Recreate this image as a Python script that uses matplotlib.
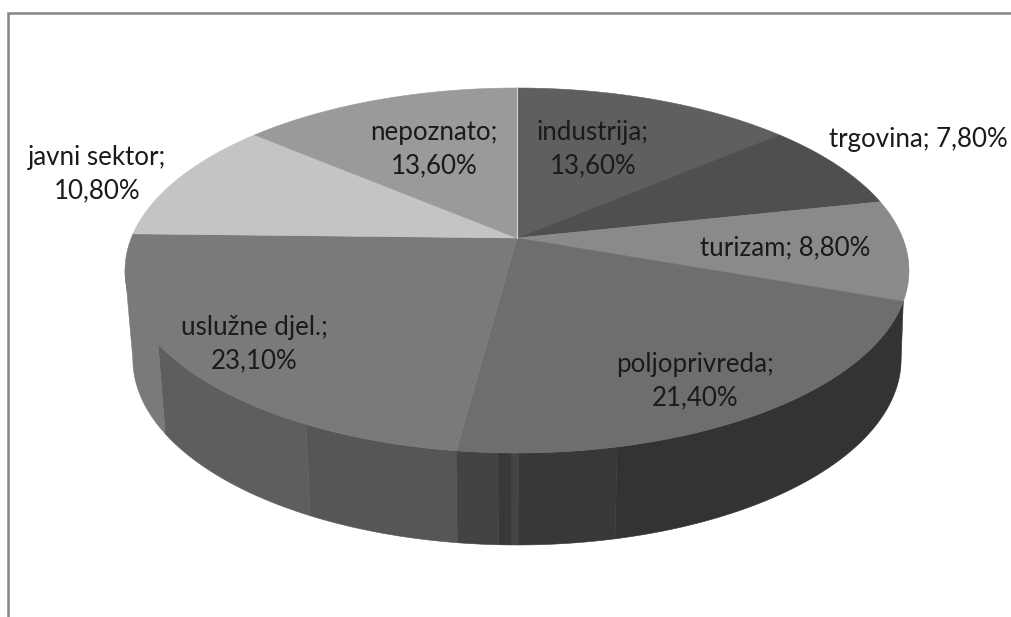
import numpy as np
import matplotlib
matplotlib.use("Agg")
import matplotlib.pyplot as plt

# Data
categories = ["industrija", "trgovina", "turizam", "poljoprivreda",
              "uslužne djel.", "javni sektor", "nepoznato"]
values = [13.6, 7.8, 8.8, 21.4, 23.1, 10.8, 13.6]

# Styles
top_colors = ["#5f5f5f", "#4f4f4f", "#8a8a8a", "#6e6e6e", "#7a7a7a", "#c4c4c4", "#9a9a9a"]
label_xy = [(593, 149), (918, 139), (785, 248), (695, 381), (254, 344), (97, 174), (434, 149)]
side_edges_px = [158, 306, 456, 498, 511, 518, 617]
side_colors = ["#7a7a7a", "#5e5e5e", "#565656", "#434343", "#383838", "#444444", "#383838", "#333333"]

CX, K = 517.0, 0.178
TOP = dict(cy=238.0, a=385.7, b=176.7)
BOT = dict(cy=326.0, a=378.0, b=180.0)


def project(theta, cy, a, b):
    """Perspective projection of the unit circle; theta clockwise from 12 o'clock."""
    x, y = np.sin(theta), np.cos(theta)
    w = 1 + K * y
    return CX + a * x / w, cy - b * y / w


def arc(t0, t1, n=120):
    return np.linspace(t0, t1, n)


fig = plt.figure(figsize=(10.11, 6.17), dpi=100, facecolor="white")
ax = fig.add_axes([0, 0, 1, 1])
ax.set_xlim(0, 1011)
ax.set_ylim(617, 0)
ax.axis("off")

# chart frame
ax.plot([8, 8, 1011], [617, 13, 13], color="#868686", lw=1.8, solid_joinstyle="miter", zorder=1)

# angles
fractions = np.array(values) / np.sum(values)
edges = np.concatenate([[0], np.cumsum(fractions)]) * 2 * np.pi

# silhouette tangent angles of the projected ellipse
ext_right = np.arccos(-K)
ext_left = 2 * np.pi - ext_right

# side wall bands
fine = np.linspace(ext_right, ext_left, 4000)
fx, _ = project(fine, **TOP)
band_thetas = sorted(fine[np.argmin(np.abs(fx - px))] for px in side_edges_px)
band_limits = [edges[3]] + band_thetas + [ext_left]
band_cols = side_colors[::-1]
for i in range(len(band_cols)):
    t = arc(band_limits[i], band_limits[i + 1])
    xt, yt = project(t, **TOP)
    # the first band starts at the tangent of the lower rim, so the outline stays smooth
    tb = arc(ext_right, band_limits[i + 1]) if i == 0 else t
    xb, yb = project(tb, **BOT)
    ax.fill(np.r_[xt, xb[::-1]], np.r_[yt, yb[::-1]], fc=band_cols[i], ec=band_cols[i], lw=0.4, zorder=2)

# top face
for i, col in enumerate(top_colors):
    t = arc(edges[i], edges[i + 1])
    x, y = project(t, **TOP)
    ax.fill(np.r_[CX, x], np.r_[TOP["cy"], y], fc=col, ec=col, lw=0.4, zorder=3)

# thin light line at 12 o'clock
x0, y0 = project(np.array([0.0]), **TOP)
ax.plot([CX, x0[0]], [TOP["cy"], y0[0]], color="#d8d8d8", lw=0.8, zorder=4)

# labels
for name, val, (lx, ly) in zip(categories, values, label_xy):
    pct = f"{val:.2f}%".replace(".", ",")
    sep = " " if name in ("trgovina", "turizam") else "\n"
    ax.text(lx, ly, f"{name};{sep}{pct}", ha="center", va="center", family="Lato",
            fontsize=18.6, color="#1a1a1a", linespacing=1.43, zorder=5)

fig.savefig("out.png", dpi=100)
